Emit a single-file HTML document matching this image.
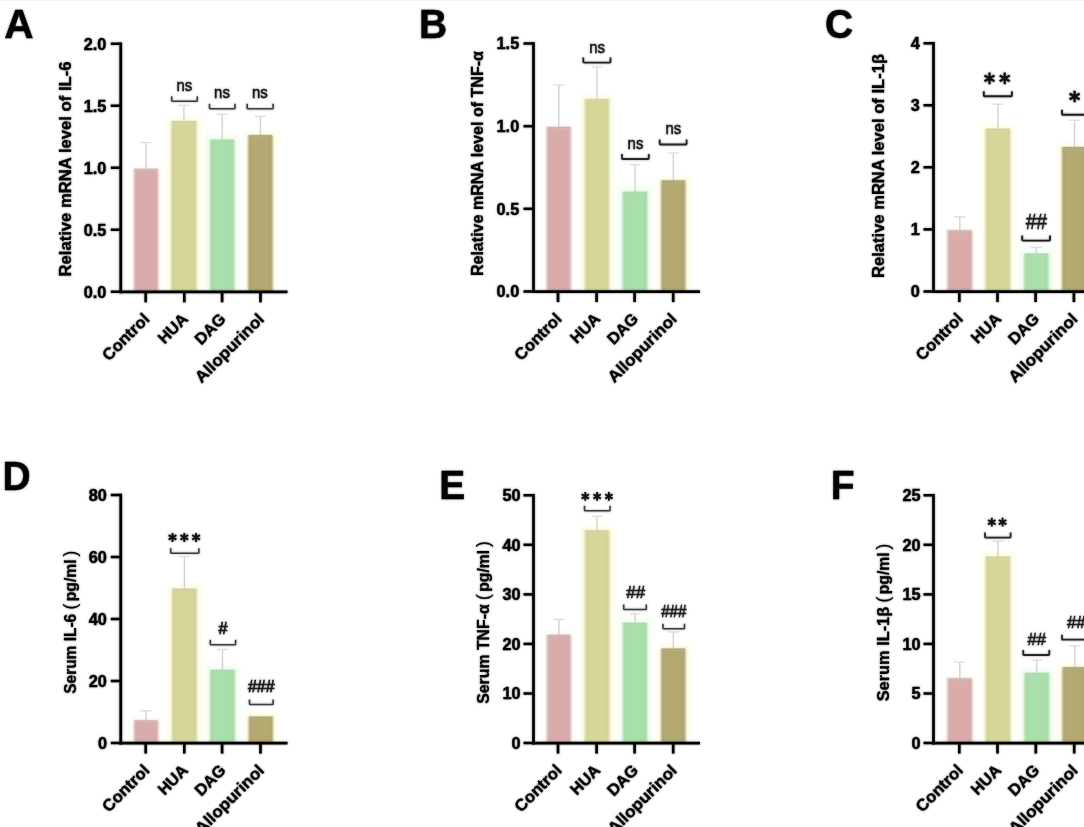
<!DOCTYPE html>
<html lang="en">
<head>
<meta charset="utf-8">
<title>Figure: cytokine mRNA and serum levels</title>
<style>
html,body{margin:0;padding:0;background:#ffffff;}
body{width:1084px;height:827px;overflow:hidden;font-family:"Liberation Sans", sans-serif;}
svg{display:block;}
</style>
</head>
<body>
<svg width="1084" height="827" viewBox="0 0 1084 827" font-family='"Liberation Sans", sans-serif'>
<defs>
<filter id="b3" x="-50%" y="-20%" width="200%" height="140%"><feGaussianBlur stdDeviation="1.7"/></filter>
<filter id="b08" x="-20%" y="-10%" width="140%" height="120%"><feGaussianBlur stdDeviation="0.95"/></filter>
<filter id="b05" x="-50%" y="-50%" width="200%" height="200%"><feGaussianBlur stdDeviation="0.5"/></filter>
<filter id="soft" filterUnits="userSpaceOnUse" x="0" y="0" width="1084" height="827"><feGaussianBlur stdDeviation="1"/></filter>
<linearGradient id="g0" x1="0" x2="1" y1="0" y2="0"><stop offset="0" stop-color="#c9b0ad"/><stop offset="0.12" stop-color="#d9abaa"/><stop offset="0.88" stop-color="#d9abaa"/><stop offset="1" stop-color="#c9b0ad"/></linearGradient>
<linearGradient id="g1" x1="0" x2="1" y1="0" y2="0"><stop offset="0" stop-color="#c9ca99"/><stop offset="0.12" stop-color="#d6d699"/><stop offset="0.88" stop-color="#d6d699"/><stop offset="1" stop-color="#c9ca99"/></linearGradient>
<linearGradient id="g2" x1="0" x2="1" y1="0" y2="0"><stop offset="0" stop-color="#a6d3a8"/><stop offset="0.12" stop-color="#a8dfaa"/><stop offset="0.88" stop-color="#a8dfaa"/><stop offset="1" stop-color="#a6d3a8"/></linearGradient>
<linearGradient id="g3" x1="0" x2="1" y1="0" y2="0"><stop offset="0" stop-color="#9d986f"/><stop offset="0.12" stop-color="#b4a970"/><stop offset="0.88" stop-color="#b4a970"/><stop offset="1" stop-color="#9d986f"/></linearGradient>
</defs>
<rect width="1084" height="827" fill="#ffffff"/>
<rect width="1084" height="1" fill="#f1f1f1"/>
<g opacity="0.999">
<rect x="129.00" y="163.50" width="34.30" height="128.25" fill="#fffaf8" filter="url(#b3)" opacity="0.6"/>
<rect x="166.30" y="116.30" width="35.30" height="175.45" fill="#fffde6" filter="url(#b3)" opacity="0.85"/>
<rect x="205.00" y="134.40" width="34.40" height="157.35" fill="#f2fff0" filter="url(#b3)" opacity="0.9"/>
<rect x="243.20" y="130.40" width="34.40" height="161.35" fill="#fffde6" filter="url(#b3)" opacity="0.85"/>
<path d="M146.15,169.50V142.50" stroke="#d2d2d2" stroke-width="1.4" fill="none"/>
<path d="M140.65,142.50H151.65" stroke="#dedede" stroke-width="1.4" fill="none"/>
<path d="M183.95,121.80V105.30" stroke="#d2d2d2" stroke-width="1.4" fill="none"/>
<path d="M178.45,105.30H189.45" stroke="#dedede" stroke-width="1.4" fill="none"/>
<path d="M222.20,140.40V114.30" stroke="#d2d2d2" stroke-width="1.4" fill="none"/>
<path d="M216.70,114.30H227.70" stroke="#dedede" stroke-width="1.4" fill="none"/>
<path d="M260.40,135.90V116.40" stroke="#d2d2d2" stroke-width="1.4" fill="none"/>
<path d="M254.90,116.40H265.90" stroke="#dedede" stroke-width="1.4" fill="none"/>
<rect x="134.00" y="169.00" width="24.30" height="122.75" fill="url(#g0)" filter="url(#b08)"/>
<rect x="134.50" y="168.80" width="23.30" height="1.3" fill="#c9b0ad" opacity="0.8"/>
<rect x="171.30" y="121.30" width="25.30" height="170.45" fill="url(#g1)" filter="url(#b08)"/>
<rect x="171.80" y="121.10" width="24.30" height="1.3" fill="#c9ca99" opacity="0.8"/>
<rect x="210.00" y="139.90" width="24.40" height="151.85" fill="url(#g2)" filter="url(#b08)"/>
<rect x="210.50" y="139.70" width="23.40" height="1.3" fill="#a6d3a8" opacity="0.8"/>
<rect x="248.20" y="135.40" width="24.40" height="156.35" fill="url(#g3)" filter="url(#b08)"/>
<rect x="248.70" y="135.20" width="23.40" height="1.3" fill="#9d986f" opacity="0.8"/>
<rect x="541.60" y="121.60" width="34.30" height="169.90" fill="#fffaf8" filter="url(#b3)" opacity="0.6"/>
<rect x="579.80" y="94.40" width="34.30" height="197.10" fill="#fffde6" filter="url(#b3)" opacity="0.85"/>
<rect x="617.60" y="186.40" width="34.80" height="105.10" fill="#f2fff0" filter="url(#b3)" opacity="0.9"/>
<rect x="656.20" y="175.70" width="34.30" height="115.80" fill="#fffde6" filter="url(#b3)" opacity="0.85"/>
<path d="M558.75,127.60V85.00" stroke="#d2d2d2" stroke-width="1.4" fill="none"/>
<path d="M553.25,85.00H564.25" stroke="#dedede" stroke-width="1.4" fill="none"/>
<path d="M596.95,99.90V67.00" stroke="#d2d2d2" stroke-width="1.4" fill="none"/>
<path d="M591.45,67.00H602.45" stroke="#dedede" stroke-width="1.4" fill="none"/>
<path d="M635.00,192.40V164.60" stroke="#d2d2d2" stroke-width="1.4" fill="none"/>
<path d="M629.50,164.60H640.50" stroke="#dedede" stroke-width="1.4" fill="none"/>
<path d="M673.35,181.20V153.00" stroke="#d2d2d2" stroke-width="1.4" fill="none"/>
<path d="M667.85,153.00H678.85" stroke="#dedede" stroke-width="1.4" fill="none"/>
<rect x="546.60" y="127.10" width="24.30" height="164.40" fill="url(#g0)" filter="url(#b08)"/>
<rect x="547.10" y="126.90" width="23.30" height="1.3" fill="#c9b0ad" opacity="0.8"/>
<rect x="584.80" y="99.40" width="24.30" height="192.10" fill="url(#g1)" filter="url(#b08)"/>
<rect x="585.30" y="99.20" width="23.30" height="1.3" fill="#c9ca99" opacity="0.8"/>
<rect x="622.60" y="191.90" width="24.80" height="99.60" fill="url(#g2)" filter="url(#b08)"/>
<rect x="623.10" y="191.70" width="23.80" height="1.3" fill="#a6d3a8" opacity="0.8"/>
<rect x="661.20" y="180.70" width="24.30" height="110.80" fill="url(#g3)" filter="url(#b08)"/>
<rect x="661.70" y="180.50" width="23.30" height="1.3" fill="#9d986f" opacity="0.8"/>
<rect x="942.30" y="225.00" width="35.00" height="66.50" fill="#fffaf8" filter="url(#b3)" opacity="0.6"/>
<rect x="980.60" y="123.90" width="34.70" height="167.60" fill="#fffde6" filter="url(#b3)" opacity="0.85"/>
<rect x="1019.10" y="248.30" width="34.50" height="43.20" fill="#f2fff0" filter="url(#b3)" opacity="0.9"/>
<rect x="1057.00" y="142.30" width="35.00" height="149.20" fill="#fffde6" filter="url(#b3)" opacity="0.85"/>
<path d="M959.80,231.00V216.80" stroke="#d2d2d2" stroke-width="1.4" fill="none"/>
<path d="M954.30,216.80H965.30" stroke="#dedede" stroke-width="1.4" fill="none"/>
<path d="M997.95,129.40V104.20" stroke="#d2d2d2" stroke-width="1.4" fill="none"/>
<path d="M992.45,104.20H1003.45" stroke="#dedede" stroke-width="1.4" fill="none"/>
<path d="M1036.35,254.30V247.40" stroke="#d2d2d2" stroke-width="1.4" fill="none"/>
<path d="M1030.85,247.40H1041.85" stroke="#dedede" stroke-width="1.4" fill="none"/>
<path d="M1074.50,147.80V120.20" stroke="#d2d2d2" stroke-width="1.4" fill="none"/>
<path d="M1069.00,120.20H1080.00" stroke="#dedede" stroke-width="1.4" fill="none"/>
<rect x="947.30" y="230.50" width="25.00" height="61.00" fill="url(#g0)" filter="url(#b08)"/>
<rect x="947.80" y="230.30" width="24.00" height="1.3" fill="#c9b0ad" opacity="0.8"/>
<rect x="985.60" y="128.90" width="24.70" height="162.60" fill="url(#g1)" filter="url(#b08)"/>
<rect x="986.10" y="128.70" width="23.70" height="1.3" fill="#c9ca99" opacity="0.8"/>
<rect x="1024.10" y="253.80" width="24.50" height="37.70" fill="url(#g2)" filter="url(#b08)"/>
<rect x="1024.60" y="253.60" width="23.50" height="1.3" fill="#a6d3a8" opacity="0.8"/>
<rect x="1062.00" y="147.30" width="25.00" height="144.20" fill="url(#g3)" filter="url(#b08)"/>
<rect x="1062.50" y="147.10" width="24.00" height="1.3" fill="#9d986f" opacity="0.8"/>
<rect x="129.00" y="715.00" width="34.30" height="28.00" fill="#fffaf8" filter="url(#b3)" opacity="0.6"/>
<rect x="167.00" y="583.90" width="34.80" height="159.10" fill="#fffde6" filter="url(#b3)" opacity="0.85"/>
<rect x="205.00" y="664.50" width="35.00" height="78.50" fill="#f2fff0" filter="url(#b3)" opacity="0.9"/>
<rect x="243.70" y="711.80" width="34.30" height="31.20" fill="#fffde6" filter="url(#b3)" opacity="0.85"/>
<path d="M146.15,721.00V710.80" stroke="#d2d2d2" stroke-width="1.4" fill="none"/>
<path d="M140.65,710.80H151.65" stroke="#dedede" stroke-width="1.4" fill="none"/>
<path d="M184.40,589.40V556.60" stroke="#d2d2d2" stroke-width="1.4" fill="none"/>
<path d="M178.90,556.60H189.90" stroke="#dedede" stroke-width="1.4" fill="none"/>
<path d="M222.50,670.50V649.50" stroke="#d2d2d2" stroke-width="1.4" fill="none"/>
<path d="M217.00,649.50H228.00" stroke="#dedede" stroke-width="1.4" fill="none"/>
<rect x="134.00" y="720.50" width="24.30" height="22.50" fill="url(#g0)" filter="url(#b08)"/>
<rect x="134.50" y="720.30" width="23.30" height="1.3" fill="#c9b0ad" opacity="0.8"/>
<rect x="172.00" y="588.90" width="24.80" height="154.10" fill="url(#g1)" filter="url(#b08)"/>
<rect x="172.50" y="588.70" width="23.80" height="1.3" fill="#c9ca99" opacity="0.8"/>
<rect x="210.00" y="670.00" width="25.00" height="73.00" fill="url(#g2)" filter="url(#b08)"/>
<rect x="210.50" y="669.80" width="24.00" height="1.3" fill="#a6d3a8" opacity="0.8"/>
<rect x="248.70" y="716.80" width="24.30" height="26.20" fill="url(#g3)" filter="url(#b08)"/>
<rect x="249.20" y="716.60" width="23.30" height="1.3" fill="#9d986f" opacity="0.8"/>
<rect x="541.80" y="629.50" width="34.20" height="113.50" fill="#fffaf8" filter="url(#b3)" opacity="0.6"/>
<rect x="579.80" y="525.50" width="34.50" height="217.50" fill="#fffde6" filter="url(#b3)" opacity="0.85"/>
<rect x="617.80" y="617.50" width="34.50" height="125.50" fill="#f2fff0" filter="url(#b3)" opacity="0.9"/>
<rect x="656.20" y="643.80" width="34.30" height="99.20" fill="#fffde6" filter="url(#b3)" opacity="0.85"/>
<path d="M558.90,635.50V619.50" stroke="#d2d2d2" stroke-width="1.4" fill="none"/>
<path d="M553.40,619.50H564.40" stroke="#dedede" stroke-width="1.4" fill="none"/>
<path d="M597.05,531.00V516.30" stroke="#d2d2d2" stroke-width="1.4" fill="none"/>
<path d="M591.55,516.30H602.55" stroke="#dedede" stroke-width="1.4" fill="none"/>
<path d="M635.05,623.50V613.80" stroke="#d2d2d2" stroke-width="1.4" fill="none"/>
<path d="M629.55,613.80H640.55" stroke="#dedede" stroke-width="1.4" fill="none"/>
<path d="M673.35,649.30V632.00" stroke="#d2d2d2" stroke-width="1.4" fill="none"/>
<path d="M667.85,632.00H678.85" stroke="#dedede" stroke-width="1.4" fill="none"/>
<rect x="546.80" y="635.00" width="24.20" height="108.00" fill="url(#g0)" filter="url(#b08)"/>
<rect x="547.30" y="634.80" width="23.20" height="1.3" fill="#c9b0ad" opacity="0.8"/>
<rect x="584.80" y="530.50" width="24.50" height="212.50" fill="url(#g1)" filter="url(#b08)"/>
<rect x="585.30" y="530.30" width="23.50" height="1.3" fill="#c9ca99" opacity="0.8"/>
<rect x="622.80" y="623.00" width="24.50" height="120.00" fill="url(#g2)" filter="url(#b08)"/>
<rect x="623.30" y="622.80" width="23.50" height="1.3" fill="#a6d3a8" opacity="0.8"/>
<rect x="661.20" y="648.80" width="24.30" height="94.20" fill="url(#g3)" filter="url(#b08)"/>
<rect x="661.70" y="648.60" width="23.30" height="1.3" fill="#9d986f" opacity="0.8"/>
<rect x="942.30" y="673.00" width="35.00" height="70.00" fill="#fffaf8" filter="url(#b3)" opacity="0.6"/>
<rect x="980.60" y="551.80" width="34.70" height="191.20" fill="#fffde6" filter="url(#b3)" opacity="0.85"/>
<rect x="1019.30" y="667.50" width="34.90" height="75.50" fill="#f2fff0" filter="url(#b3)" opacity="0.9"/>
<rect x="1057.40" y="662.50" width="34.60" height="80.50" fill="#fffde6" filter="url(#b3)" opacity="0.85"/>
<path d="M959.80,679.00V662.00" stroke="#d2d2d2" stroke-width="1.4" fill="none"/>
<path d="M954.30,662.00H965.30" stroke="#dedede" stroke-width="1.4" fill="none"/>
<path d="M997.95,557.30V541.30" stroke="#d2d2d2" stroke-width="1.4" fill="none"/>
<path d="M992.45,541.30H1003.45" stroke="#dedede" stroke-width="1.4" fill="none"/>
<path d="M1036.75,673.50V660.00" stroke="#d2d2d2" stroke-width="1.4" fill="none"/>
<path d="M1031.25,660.00H1042.25" stroke="#dedede" stroke-width="1.4" fill="none"/>
<path d="M1074.70,668.00V645.80" stroke="#d2d2d2" stroke-width="1.4" fill="none"/>
<path d="M1069.20,645.80H1080.20" stroke="#dedede" stroke-width="1.4" fill="none"/>
<rect x="947.30" y="678.50" width="25.00" height="64.50" fill="url(#g0)" filter="url(#b08)"/>
<rect x="947.80" y="678.30" width="24.00" height="1.3" fill="#c9b0ad" opacity="0.8"/>
<rect x="985.60" y="556.80" width="24.70" height="186.20" fill="url(#g1)" filter="url(#b08)"/>
<rect x="986.10" y="556.60" width="23.70" height="1.3" fill="#c9ca99" opacity="0.8"/>
<rect x="1024.30" y="673.00" width="24.90" height="70.00" fill="url(#g2)" filter="url(#b08)"/>
<rect x="1024.80" y="672.80" width="23.90" height="1.3" fill="#a6d3a8" opacity="0.8"/>
<rect x="1062.40" y="667.50" width="24.60" height="75.50" fill="url(#g3)" filter="url(#b08)"/>
<rect x="1062.90" y="667.30" width="23.60" height="1.3" fill="#9d986f" opacity="0.8"/>
</g>
<g filter="url(#soft)" opacity="0.5">
<path d="M120.75,42.40V293.25" stroke="#000000" stroke-width="2.75" fill="none"/>
<path d="M119.30,291.75H287.50" stroke="#000000" stroke-width="2.75" fill="none"/>
<path d="M110.75,43.75H120.75" stroke="#000000" stroke-width="2.55" fill="none"/>
<text x="106.35" y="49.65" text-anchor="end" font-size="16.3" font-weight="700" fill="#000000" stroke="#000000" stroke-width="0.4">2.0</text>
<path d="M110.75,105.75H120.75" stroke="#000000" stroke-width="2.55" fill="none"/>
<text x="106.35" y="111.65" text-anchor="end" font-size="16.3" font-weight="700" fill="#000000" stroke="#000000" stroke-width="0.4">1.5</text>
<path d="M110.75,167.75H120.75" stroke="#000000" stroke-width="2.55" fill="none"/>
<text x="106.35" y="173.65" text-anchor="end" font-size="16.3" font-weight="700" fill="#000000" stroke="#000000" stroke-width="0.4">1.0</text>
<path d="M110.75,229.75H120.75" stroke="#000000" stroke-width="2.55" fill="none"/>
<text x="106.35" y="235.65" text-anchor="end" font-size="16.3" font-weight="700" fill="#000000" stroke="#000000" stroke-width="0.4">0.5</text>
<path d="M110.75,291.75H120.75" stroke="#000000" stroke-width="2.55" fill="none"/>
<text x="106.35" y="297.65" text-anchor="end" font-size="16.3" font-weight="700" fill="#000000" stroke="#000000" stroke-width="0.4">0.0</text>
<path d="M145.70,291.75V302.35" stroke="#000000" stroke-width="2.65" fill="none"/>
<text transform="translate(150.40,320.05) rotate(-45)" text-anchor="end" font-size="16.3" font-weight="700" fill="#000000" stroke="#000000" stroke-width="0.3" textLength="59.0" lengthAdjust="spacingAndGlyphs">Control</text>
<path d="M184.30,291.75V302.35" stroke="#000000" stroke-width="2.65" fill="none"/>
<text transform="translate(189.00,320.05) rotate(-45)" text-anchor="end" font-size="16.3" font-weight="700" fill="#000000" stroke="#000000" stroke-width="0.3" textLength="34.8" lengthAdjust="spacingAndGlyphs">HUA</text>
<path d="M222.10,291.75V302.35" stroke="#000000" stroke-width="2.65" fill="none"/>
<text transform="translate(226.80,320.05) rotate(-45)" text-anchor="end" font-size="16.3" font-weight="700" fill="#000000" stroke="#000000" stroke-width="0.3" textLength="36.3" lengthAdjust="spacingAndGlyphs">DAG</text>
<path d="M260.50,291.75V302.35" stroke="#000000" stroke-width="2.65" fill="none"/>
<text transform="translate(265.20,320.05) rotate(-45)" text-anchor="end" font-size="16.3" font-weight="700" fill="#000000" stroke="#000000" stroke-width="0.3" textLength="90.0" lengthAdjust="spacingAndGlyphs">Allopurinol</text>
<text transform="translate(71.20,169.00) rotate(-90)" text-anchor="middle" font-size="16.3" font-weight="700" fill="#000000" stroke="#000000" stroke-width="0.3" textLength="215" lengthAdjust="spacingAndGlyphs">Relative mRNA level of IL-6</text>
<text transform="translate(4.30,37.80) scale(1.04,1.045)" font-size="39" font-weight="700" fill="#000" stroke="#000" stroke-width="0.4">A</text>
<path d="M171.70,96.20V100.40Q171.70,101.20 172.50,101.20H196.50Q197.30,101.20 197.30,100.40V96.20" stroke="#3d3d3d" stroke-width="1.6" fill="none" stroke-linejoin="round"/>
<text x="184.40" y="91.00" text-anchor="middle" font-size="17" fill="#161616" stroke="#161616" stroke-width="0.45" textLength="15.8" lengthAdjust="spacingAndGlyphs">ns</text>
<path d="M209.50,103.80V108.00Q209.50,108.80 210.30,108.80H234.20Q235.00,108.80 235.00,108.00V103.80" stroke="#3d3d3d" stroke-width="1.6" fill="none" stroke-linejoin="round"/>
<text x="222.00" y="98.00" text-anchor="middle" font-size="17" fill="#161616" stroke="#161616" stroke-width="0.45" textLength="15.8" lengthAdjust="spacingAndGlyphs">ns</text>
<path d="M247.20,103.80V108.00Q247.20,108.80 248.00,108.80H272.30Q273.10,108.80 273.10,108.00V103.80" stroke="#3d3d3d" stroke-width="1.6" fill="none" stroke-linejoin="round"/>
<text x="259.80" y="98.00" text-anchor="middle" font-size="17" fill="#161616" stroke="#161616" stroke-width="0.45" textLength="15.8" lengthAdjust="spacingAndGlyphs">ns</text>
<path d="M533.50,42.15V293.00" stroke="#000000" stroke-width="2.75" fill="none"/>
<path d="M532.05,291.50H700.00" stroke="#000000" stroke-width="2.75" fill="none"/>
<path d="M523.50,43.50H533.50" stroke="#000000" stroke-width="2.55" fill="none"/>
<text x="519.20" y="49.40" text-anchor="end" font-size="16.3" font-weight="700" fill="#000000" stroke="#000000" stroke-width="0.4">1.5</text>
<path d="M523.50,126.20H533.50" stroke="#000000" stroke-width="2.55" fill="none"/>
<text x="519.20" y="132.10" text-anchor="end" font-size="16.3" font-weight="700" fill="#000000" stroke="#000000" stroke-width="0.4">1.0</text>
<path d="M523.50,208.80H533.50" stroke="#000000" stroke-width="2.55" fill="none"/>
<text x="519.20" y="214.70" text-anchor="end" font-size="16.3" font-weight="700" fill="#000000" stroke="#000000" stroke-width="0.4">0.5</text>
<path d="M523.50,291.50H533.50" stroke="#000000" stroke-width="2.55" fill="none"/>
<text x="519.20" y="297.40" text-anchor="end" font-size="16.3" font-weight="700" fill="#000000" stroke="#000000" stroke-width="0.4">0.0</text>
<path d="M558.00,291.50V302.10" stroke="#000000" stroke-width="2.65" fill="none"/>
<text transform="translate(562.70,319.80) rotate(-45)" text-anchor="end" font-size="16.3" font-weight="700" fill="#000000" stroke="#000000" stroke-width="0.3" textLength="59.0" lengthAdjust="spacingAndGlyphs">Control</text>
<path d="M596.60,291.50V302.10" stroke="#000000" stroke-width="2.65" fill="none"/>
<text transform="translate(601.30,319.80) rotate(-45)" text-anchor="end" font-size="16.3" font-weight="700" fill="#000000" stroke="#000000" stroke-width="0.3" textLength="34.8" lengthAdjust="spacingAndGlyphs">HUA</text>
<path d="M634.60,291.50V302.10" stroke="#000000" stroke-width="2.65" fill="none"/>
<text transform="translate(639.30,319.80) rotate(-45)" text-anchor="end" font-size="16.3" font-weight="700" fill="#000000" stroke="#000000" stroke-width="0.3" textLength="36.3" lengthAdjust="spacingAndGlyphs">DAG</text>
<path d="M673.20,291.50V302.10" stroke="#000000" stroke-width="2.65" fill="none"/>
<text transform="translate(677.90,319.80) rotate(-45)" text-anchor="end" font-size="16.3" font-weight="700" fill="#000000" stroke="#000000" stroke-width="0.3" textLength="90.0" lengthAdjust="spacingAndGlyphs">Allopurinol</text>
<text transform="translate(482.70,163.60) rotate(-90)" text-anchor="middle" font-size="16.3" font-weight="700" fill="#000000" stroke="#000000" stroke-width="0.3" textLength="225" lengthAdjust="spacingAndGlyphs">Relative mRNA level of TNF-α</text>
<text transform="translate(418.90,37.80) scale(1.0,1.045)" font-size="39" font-weight="700" fill="#000" stroke="#000" stroke-width="0.4">B</text>
<path d="M583.30,57.60V61.80Q583.30,62.60 584.10,62.60H609.70Q610.50,62.60 610.50,61.80V57.60" stroke="#262626" stroke-width="1.85" fill="none" stroke-linejoin="round"/>
<text x="597.20" y="53.00" text-anchor="middle" font-size="17" fill="#161616" stroke="#161616" stroke-width="0.45" textLength="15.8" lengthAdjust="spacingAndGlyphs">ns</text>
<path d="M622.00,154.00V158.20Q622.00,159.00 622.80,159.00H648.00Q648.80,159.00 648.80,158.20V154.00" stroke="#262626" stroke-width="1.85" fill="none" stroke-linejoin="round"/>
<text x="635.50" y="149.40" text-anchor="middle" font-size="17" fill="#161616" stroke="#161616" stroke-width="0.45" textLength="15.8" lengthAdjust="spacingAndGlyphs">ns</text>
<path d="M659.70,139.50V143.70Q659.70,144.50 660.50,144.50H685.80Q686.60,144.50 686.60,143.70V139.50" stroke="#262626" stroke-width="1.85" fill="none" stroke-linejoin="round"/>
<text x="673.30" y="134.00" text-anchor="middle" font-size="17" fill="#161616" stroke="#161616" stroke-width="0.45" textLength="15.8" lengthAdjust="spacingAndGlyphs">ns</text>
<path d="M933.50,41.95V293.00" stroke="#000000" stroke-width="2.75" fill="none"/>
<path d="M932.05,291.50H1086.00" stroke="#000000" stroke-width="2.75" fill="none"/>
<path d="M923.50,43.30H933.50" stroke="#000000" stroke-width="2.55" fill="none"/>
<text x="919.70" y="49.20" text-anchor="end" font-size="16.3" font-weight="700" fill="#000000" stroke="#000000" stroke-width="0.4">4</text>
<path d="M923.50,105.30H933.50" stroke="#000000" stroke-width="2.55" fill="none"/>
<text x="919.70" y="111.20" text-anchor="end" font-size="16.3" font-weight="700" fill="#000000" stroke="#000000" stroke-width="0.4">3</text>
<path d="M923.50,167.30H933.50" stroke="#000000" stroke-width="2.55" fill="none"/>
<text x="919.70" y="173.20" text-anchor="end" font-size="16.3" font-weight="700" fill="#000000" stroke="#000000" stroke-width="0.4">2</text>
<path d="M923.50,229.40H933.50" stroke="#000000" stroke-width="2.55" fill="none"/>
<text x="919.70" y="235.30" text-anchor="end" font-size="16.3" font-weight="700" fill="#000000" stroke="#000000" stroke-width="0.4">1</text>
<path d="M923.50,291.50H933.50" stroke="#000000" stroke-width="2.55" fill="none"/>
<text x="919.70" y="297.40" text-anchor="end" font-size="16.3" font-weight="700" fill="#000000" stroke="#000000" stroke-width="0.4">0</text>
<path d="M959.30,291.50V302.10" stroke="#000000" stroke-width="2.65" fill="none"/>
<text transform="translate(964.00,319.80) rotate(-45)" text-anchor="end" font-size="16.3" font-weight="700" fill="#000000" stroke="#000000" stroke-width="0.3" textLength="59.0" lengthAdjust="spacingAndGlyphs">Control</text>
<path d="M997.50,291.50V302.10" stroke="#000000" stroke-width="2.65" fill="none"/>
<text transform="translate(1002.20,319.80) rotate(-45)" text-anchor="end" font-size="16.3" font-weight="700" fill="#000000" stroke="#000000" stroke-width="0.3" textLength="34.8" lengthAdjust="spacingAndGlyphs">HUA</text>
<path d="M1035.60,291.50V302.10" stroke="#000000" stroke-width="2.65" fill="none"/>
<text transform="translate(1040.30,319.80) rotate(-45)" text-anchor="end" font-size="16.3" font-weight="700" fill="#000000" stroke="#000000" stroke-width="0.3" textLength="36.3" lengthAdjust="spacingAndGlyphs">DAG</text>
<path d="M1073.90,291.50V302.10" stroke="#000000" stroke-width="2.65" fill="none"/>
<text transform="translate(1078.60,319.80) rotate(-45)" text-anchor="end" font-size="16.3" font-weight="700" fill="#000000" stroke="#000000" stroke-width="0.3" textLength="90.0" lengthAdjust="spacingAndGlyphs">Allopurinol</text>
<text transform="translate(883.80,166.00) rotate(-90)" text-anchor="middle" font-size="16.3" font-weight="700" fill="#000000" stroke="#000000" stroke-width="0.3" textLength="224" lengthAdjust="spacingAndGlyphs">Relative mRNA level of IL-1β</text>
<text transform="translate(824.90,37.80) scale(1.0,1.045)" font-size="39" font-weight="700" fill="#000" stroke="#000" stroke-width="0.4">C</text>
<path d="M983.80,91.30V95.50Q983.80,96.30 984.60,96.30H1011.10Q1011.90,96.30 1011.90,95.50V91.30" stroke="#1e1e1e" stroke-width="1.9" fill="none" stroke-linejoin="round"/>
<path d="M989.50,72.60L989.50,84.20M984.48,75.50L994.52,81.30M994.52,75.50L984.48,81.30" stroke="#111" stroke-width="2.4" stroke-linecap="butt" fill="none"/>
<path d="M1004.70,72.60L1004.70,84.20M999.68,75.50L1009.72,81.30M1009.72,75.50L999.68,81.30" stroke="#111" stroke-width="2.4" stroke-linecap="butt" fill="none"/>
<path d="M1022.20,235.60V239.80Q1022.20,240.60 1023.00,240.60H1049.20Q1050.00,240.60 1050.00,239.80V235.60" stroke="#1e1e1e" stroke-width="1.9" fill="none" stroke-linejoin="round"/>
<text x="1036.10" y="228.60" text-anchor="middle" font-size="22.5" font-style="italic" fill="#1a1a1a" stroke="#1a1a1a" stroke-width="0.45" textLength="21.45" lengthAdjust="spacingAndGlyphs">##</text>
<path d="M1062.00,109.70V113.90Q1062.00,114.70 1062.80,114.70H1088.50Q1089.30,114.70 1089.30,113.90V109.70" stroke="#1e1e1e" stroke-width="1.9" fill="none" stroke-linejoin="round"/>
<path d="M1074.60,90.70L1074.60,102.30M1069.58,93.60L1079.62,99.40M1079.62,93.60L1069.58,99.40" stroke="#111" stroke-width="2.4" stroke-linecap="butt" fill="none"/>
<path d="M120.75,493.65V744.50" stroke="#000000" stroke-width="2.75" fill="none"/>
<path d="M119.30,743.00H287.50" stroke="#000000" stroke-width="2.75" fill="none"/>
<path d="M110.75,495.00H120.75" stroke="#000000" stroke-width="2.55" fill="none"/>
<text x="106.95" y="500.90" text-anchor="end" font-size="16.3" font-weight="700" fill="#000000" stroke="#000000" stroke-width="0.4">80</text>
<path d="M110.75,557.00H120.75" stroke="#000000" stroke-width="2.55" fill="none"/>
<text x="106.95" y="562.90" text-anchor="end" font-size="16.3" font-weight="700" fill="#000000" stroke="#000000" stroke-width="0.4">60</text>
<path d="M110.75,619.00H120.75" stroke="#000000" stroke-width="2.55" fill="none"/>
<text x="106.95" y="624.90" text-anchor="end" font-size="16.3" font-weight="700" fill="#000000" stroke="#000000" stroke-width="0.4">40</text>
<path d="M110.75,681.00H120.75" stroke="#000000" stroke-width="2.55" fill="none"/>
<text x="106.95" y="686.90" text-anchor="end" font-size="16.3" font-weight="700" fill="#000000" stroke="#000000" stroke-width="0.4">20</text>
<path d="M110.75,743.00H120.75" stroke="#000000" stroke-width="2.55" fill="none"/>
<text x="106.95" y="748.90" text-anchor="end" font-size="16.3" font-weight="700" fill="#000000" stroke="#000000" stroke-width="0.4">0</text>
<path d="M145.70,743.00V753.60" stroke="#000000" stroke-width="2.65" fill="none"/>
<text transform="translate(150.40,771.30) rotate(-45)" text-anchor="end" font-size="16.3" font-weight="700" fill="#000000" stroke="#000000" stroke-width="0.3" textLength="59.0" lengthAdjust="spacingAndGlyphs">Control</text>
<path d="M184.30,743.00V753.60" stroke="#000000" stroke-width="2.65" fill="none"/>
<text transform="translate(189.00,771.30) rotate(-45)" text-anchor="end" font-size="16.3" font-weight="700" fill="#000000" stroke="#000000" stroke-width="0.3" textLength="34.8" lengthAdjust="spacingAndGlyphs">HUA</text>
<path d="M222.10,743.00V753.60" stroke="#000000" stroke-width="2.65" fill="none"/>
<text transform="translate(226.80,771.30) rotate(-45)" text-anchor="end" font-size="16.3" font-weight="700" fill="#000000" stroke="#000000" stroke-width="0.3" textLength="36.3" lengthAdjust="spacingAndGlyphs">DAG</text>
<path d="M260.50,743.00V753.60" stroke="#000000" stroke-width="2.65" fill="none"/>
<text transform="translate(265.20,771.30) rotate(-45)" text-anchor="end" font-size="16.3" font-weight="700" fill="#000000" stroke="#000000" stroke-width="0.3" textLength="90.0" lengthAdjust="spacingAndGlyphs">Allopurinol</text>
<g transform="translate(76.10,693.80) rotate(-90)" font-size="15.8" font-weight="700" fill="#000000" stroke="#000000" stroke-width="0.25">
<text x="0" y="0" textLength="80" lengthAdjust="spacingAndGlyphs">Serum IL-6</text>
<text x="84.20" y="-0.3" font-weight="400" font-size="17.5" stroke-width="0.2">(</text>
<text x="92.60" y="0" textLength="41.8" lengthAdjust="spacingAndGlyphs">pg/ml</text>
<text x="137.40" y="-0.3" font-weight="400" font-size="17.5" stroke-width="0.2">)</text>
</g>
<text transform="translate(2.50,489.80) scale(1.0,1.045)" font-size="39" font-weight="700" fill="#000" stroke="#000" stroke-width="0.4">D</text>
<path d="M170.70,548.30V552.50Q170.70,553.30 171.50,553.30H198.10Q198.90,553.30 198.90,552.50V548.30" stroke="#3d3d3d" stroke-width="1.6" fill="none" stroke-linejoin="round"/>
<path d="M172.50,532.90L172.50,541.90M168.60,535.15L176.40,539.65M176.40,535.15L168.60,539.65" stroke="#111" stroke-width="1.95" stroke-linecap="butt" fill="none"/>
<path d="M184.30,532.90L184.30,541.90M180.40,535.15L188.20,539.65M188.20,535.15L180.40,539.65" stroke="#111" stroke-width="1.95" stroke-linecap="butt" fill="none"/>
<path d="M196.10,532.90L196.10,541.90M192.20,535.15L200.00,539.65M200.00,535.15L192.20,539.65" stroke="#111" stroke-width="1.95" stroke-linecap="butt" fill="none"/>
<path d="M210.30,639.80V644.00Q210.30,644.80 211.10,644.80H234.80Q235.60,644.80 235.60,644.00V639.80" stroke="#3d3d3d" stroke-width="1.6" fill="none" stroke-linejoin="round"/>
<text x="222.80" y="634.40" text-anchor="middle" font-size="16.5" font-style="italic" fill="#1a1a1a" stroke="#1a1a1a" stroke-width="0.7" textLength="9.00" lengthAdjust="spacingAndGlyphs">#</text>
<path d="M249.50,699.50V703.70Q249.50,704.50 250.30,704.50H272.30Q273.10,704.50 273.10,703.70V699.50" stroke="#3d3d3d" stroke-width="1.6" fill="none" stroke-linejoin="round"/>
<text x="261.00" y="692.20" text-anchor="middle" font-size="16.5" font-style="italic" fill="#1a1a1a" stroke="#1a1a1a" stroke-width="0.7" textLength="26.50" lengthAdjust="spacingAndGlyphs">###</text>
<path d="M533.50,493.95V744.50" stroke="#000000" stroke-width="2.75" fill="none"/>
<path d="M532.05,743.00H700.00" stroke="#000000" stroke-width="2.75" fill="none"/>
<path d="M523.50,495.30H533.50" stroke="#000000" stroke-width="2.55" fill="none"/>
<text x="520.50" y="501.20" text-anchor="end" font-size="16.3" font-weight="700" fill="#000000" stroke="#000000" stroke-width="0.4">50</text>
<path d="M523.50,544.80H533.50" stroke="#000000" stroke-width="2.55" fill="none"/>
<text x="520.50" y="550.70" text-anchor="end" font-size="16.3" font-weight="700" fill="#000000" stroke="#000000" stroke-width="0.4">40</text>
<path d="M523.50,594.40H533.50" stroke="#000000" stroke-width="2.55" fill="none"/>
<text x="520.50" y="600.30" text-anchor="end" font-size="16.3" font-weight="700" fill="#000000" stroke="#000000" stroke-width="0.4">30</text>
<path d="M523.50,643.90H533.50" stroke="#000000" stroke-width="2.55" fill="none"/>
<text x="520.50" y="649.80" text-anchor="end" font-size="16.3" font-weight="700" fill="#000000" stroke="#000000" stroke-width="0.4">20</text>
<path d="M523.50,693.50H533.50" stroke="#000000" stroke-width="2.55" fill="none"/>
<text x="520.50" y="699.40" text-anchor="end" font-size="16.3" font-weight="700" fill="#000000" stroke="#000000" stroke-width="0.4">10</text>
<path d="M523.50,743.00H533.50" stroke="#000000" stroke-width="2.55" fill="none"/>
<text x="520.50" y="748.90" text-anchor="end" font-size="16.3" font-weight="700" fill="#000000" stroke="#000000" stroke-width="0.4">0</text>
<path d="M558.00,743.00V753.60" stroke="#000000" stroke-width="2.65" fill="none"/>
<text transform="translate(562.70,771.30) rotate(-45)" text-anchor="end" font-size="16.3" font-weight="700" fill="#000000" stroke="#000000" stroke-width="0.3" textLength="59.0" lengthAdjust="spacingAndGlyphs">Control</text>
<path d="M596.60,743.00V753.60" stroke="#000000" stroke-width="2.65" fill="none"/>
<text transform="translate(601.30,771.30) rotate(-45)" text-anchor="end" font-size="16.3" font-weight="700" fill="#000000" stroke="#000000" stroke-width="0.3" textLength="34.8" lengthAdjust="spacingAndGlyphs">HUA</text>
<path d="M634.60,743.00V753.60" stroke="#000000" stroke-width="2.65" fill="none"/>
<text transform="translate(639.30,771.30) rotate(-45)" text-anchor="end" font-size="16.3" font-weight="700" fill="#000000" stroke="#000000" stroke-width="0.3" textLength="36.3" lengthAdjust="spacingAndGlyphs">DAG</text>
<path d="M673.20,743.00V753.60" stroke="#000000" stroke-width="2.65" fill="none"/>
<text transform="translate(677.90,771.30) rotate(-45)" text-anchor="end" font-size="16.3" font-weight="700" fill="#000000" stroke="#000000" stroke-width="0.3" textLength="90.0" lengthAdjust="spacingAndGlyphs">Allopurinol</text>
<g transform="translate(489.10,703.80) rotate(-90)" font-size="15.8" font-weight="700" fill="#000000" stroke="#000000" stroke-width="0.25">
<text x="0" y="0" textLength="99.5" lengthAdjust="spacingAndGlyphs">Serum TNF-α</text>
<text x="103.70" y="-0.3" font-weight="400" font-size="17.5" stroke-width="0.2">(</text>
<text x="112.10" y="0" textLength="41.8" lengthAdjust="spacingAndGlyphs">pg/ml</text>
<text x="156.90" y="-0.3" font-weight="400" font-size="17.5" stroke-width="0.2">)</text>
</g>
<text transform="translate(439.30,498.80) scale(1.0,1.045)" font-size="39" font-weight="700" fill="#000" stroke="#000" stroke-width="0.4">E</text>
<path d="M584.50,505.80V510.00Q584.50,510.80 585.30,510.80H609.30Q610.10,510.80 610.10,510.00V505.80" stroke="#3d3d3d" stroke-width="1.6" fill="none" stroke-linejoin="round"/>
<path d="M585.30,492.10L585.30,500.70M581.58,494.25L589.02,498.55M589.02,494.25L581.58,498.55" stroke="#111" stroke-width="1.95" stroke-linecap="butt" fill="none"/>
<path d="M597.10,492.10L597.10,500.70M593.38,494.25L600.82,498.55M600.82,494.25L593.38,498.55" stroke="#111" stroke-width="1.95" stroke-linecap="butt" fill="none"/>
<path d="M608.90,492.10L608.90,500.70M605.18,494.25L612.62,498.55M612.62,494.25L605.18,498.55" stroke="#111" stroke-width="1.95" stroke-linecap="butt" fill="none"/>
<path d="M623.70,604.50V608.70Q623.70,609.50 624.50,609.50H645.50Q646.30,609.50 646.30,608.70V604.50" stroke="#3d3d3d" stroke-width="1.6" fill="none" stroke-linejoin="round"/>
<text x="635.40" y="597.80" text-anchor="middle" font-size="16.5" font-style="italic" fill="#1a1a1a" stroke="#1a1a1a" stroke-width="0.55" textLength="18.72" lengthAdjust="spacingAndGlyphs">##</text>
<path d="M663.00,623.80V628.00Q663.00,628.80 663.80,628.80H683.70Q684.50,628.80 684.50,628.00V623.80" stroke="#3d3d3d" stroke-width="1.6" fill="none" stroke-linejoin="round"/>
<text x="673.60" y="617.30" text-anchor="middle" font-size="16.5" font-style="italic" fill="#1a1a1a" stroke="#1a1a1a" stroke-width="0.55" textLength="25.44" lengthAdjust="spacingAndGlyphs">###</text>
<path d="M933.50,493.95V744.50" stroke="#000000" stroke-width="2.75" fill="none"/>
<path d="M932.05,743.00H1086.00" stroke="#000000" stroke-width="2.75" fill="none"/>
<path d="M923.50,495.30H933.50" stroke="#000000" stroke-width="2.55" fill="none"/>
<text x="920.50" y="501.20" text-anchor="end" font-size="16.3" font-weight="700" fill="#000000" stroke="#000000" stroke-width="0.4">25</text>
<path d="M923.50,544.80H933.50" stroke="#000000" stroke-width="2.55" fill="none"/>
<text x="920.50" y="550.70" text-anchor="end" font-size="16.3" font-weight="700" fill="#000000" stroke="#000000" stroke-width="0.4">20</text>
<path d="M923.50,594.40H933.50" stroke="#000000" stroke-width="2.55" fill="none"/>
<text x="920.50" y="600.30" text-anchor="end" font-size="16.3" font-weight="700" fill="#000000" stroke="#000000" stroke-width="0.4">15</text>
<path d="M923.50,643.90H933.50" stroke="#000000" stroke-width="2.55" fill="none"/>
<text x="920.50" y="649.80" text-anchor="end" font-size="16.3" font-weight="700" fill="#000000" stroke="#000000" stroke-width="0.4">10</text>
<path d="M923.50,693.50H933.50" stroke="#000000" stroke-width="2.55" fill="none"/>
<text x="920.50" y="699.40" text-anchor="end" font-size="16.3" font-weight="700" fill="#000000" stroke="#000000" stroke-width="0.4">5</text>
<path d="M923.50,743.00H933.50" stroke="#000000" stroke-width="2.55" fill="none"/>
<text x="920.50" y="748.90" text-anchor="end" font-size="16.3" font-weight="700" fill="#000000" stroke="#000000" stroke-width="0.4">0</text>
<path d="M959.30,743.00V753.60" stroke="#000000" stroke-width="2.65" fill="none"/>
<text transform="translate(964.00,771.30) rotate(-45)" text-anchor="end" font-size="16.3" font-weight="700" fill="#000000" stroke="#000000" stroke-width="0.3" textLength="59.0" lengthAdjust="spacingAndGlyphs">Control</text>
<path d="M997.50,743.00V753.60" stroke="#000000" stroke-width="2.65" fill="none"/>
<text transform="translate(1002.20,771.30) rotate(-45)" text-anchor="end" font-size="16.3" font-weight="700" fill="#000000" stroke="#000000" stroke-width="0.3" textLength="34.8" lengthAdjust="spacingAndGlyphs">HUA</text>
<path d="M1035.80,743.00V753.60" stroke="#000000" stroke-width="2.65" fill="none"/>
<text transform="translate(1040.50,771.30) rotate(-45)" text-anchor="end" font-size="16.3" font-weight="700" fill="#000000" stroke="#000000" stroke-width="0.3" textLength="36.3" lengthAdjust="spacingAndGlyphs">DAG</text>
<path d="M1074.20,743.00V753.60" stroke="#000000" stroke-width="2.65" fill="none"/>
<text transform="translate(1078.90,771.30) rotate(-45)" text-anchor="end" font-size="16.3" font-weight="700" fill="#000000" stroke="#000000" stroke-width="0.3" textLength="90.0" lengthAdjust="spacingAndGlyphs">Allopurinol</text>
<g transform="translate(889.40,701.30) rotate(-90)" font-size="15.8" font-weight="700" fill="#000000" stroke="#000000" stroke-width="0.25">
<text x="0" y="0" textLength="94.5" lengthAdjust="spacingAndGlyphs">Serum IL-1β</text>
<text x="98.70" y="-0.3" font-weight="400" font-size="17.5" stroke-width="0.2">(</text>
<text x="107.10" y="0" textLength="41.8" lengthAdjust="spacingAndGlyphs">pg/ml</text>
<text x="151.90" y="-0.3" font-weight="400" font-size="17.5" stroke-width="0.2">)</text>
</g>
<text transform="translate(830.80,498.80) scale(1.0,1.045)" font-size="39" font-weight="700" fill="#000" stroke="#000" stroke-width="0.4">F</text>
<path d="M985.00,532.60V536.80Q985.00,537.60 985.80,537.60H1009.80Q1010.60,537.60 1010.60,536.80V532.60" stroke="#262626" stroke-width="1.8" fill="none" stroke-linejoin="round"/>
<path d="M991.80,517.80L991.80,526.60M987.99,520.00L995.61,524.40M995.61,520.00L987.99,524.40" stroke="#111" stroke-width="1.95" stroke-linecap="butt" fill="none"/>
<path d="M1002.60,517.80L1002.60,526.60M998.79,520.00L1006.41,524.40M1006.41,520.00L998.79,524.40" stroke="#111" stroke-width="1.95" stroke-linecap="butt" fill="none"/>
<path d="M1023.20,650.00V654.20Q1023.20,655.00 1024.00,655.00H1048.50Q1049.30,655.00 1049.30,654.20V650.00" stroke="#262626" stroke-width="1.8" fill="none" stroke-linejoin="round"/>
<text x="1036.50" y="644.60" text-anchor="middle" font-size="16.5" font-style="italic" fill="#1a1a1a" stroke="#1a1a1a" stroke-width="0.5" textLength="18.52" lengthAdjust="spacingAndGlyphs">##</text>
<path d="M1062.00,634.70V638.90Q1062.00,639.70 1062.80,639.70H1088.50Q1089.30,639.70 1089.30,638.90V634.70" stroke="#262626" stroke-width="1.8" fill="none" stroke-linejoin="round"/>
<text x="1076.00" y="628.40" text-anchor="middle" font-size="16.5" font-style="italic" fill="#1a1a1a" stroke="#1a1a1a" stroke-width="0.5" textLength="18.52" lengthAdjust="spacingAndGlyphs">##</text>
</g>
<g opacity="0.999">
<path d="M120.75,42.40V293.25" stroke="#000000" stroke-width="2.75" fill="none"/>
<path d="M119.30,291.75H287.50" stroke="#000000" stroke-width="2.75" fill="none"/>
<path d="M110.75,43.75H120.75" stroke="#000000" stroke-width="2.55" fill="none"/>
<text x="106.35" y="49.65" text-anchor="end" font-size="16.3" font-weight="700" fill="#000000" stroke="#000000" stroke-width="0.4">2.0</text>
<path d="M110.75,105.75H120.75" stroke="#000000" stroke-width="2.55" fill="none"/>
<text x="106.35" y="111.65" text-anchor="end" font-size="16.3" font-weight="700" fill="#000000" stroke="#000000" stroke-width="0.4">1.5</text>
<path d="M110.75,167.75H120.75" stroke="#000000" stroke-width="2.55" fill="none"/>
<text x="106.35" y="173.65" text-anchor="end" font-size="16.3" font-weight="700" fill="#000000" stroke="#000000" stroke-width="0.4">1.0</text>
<path d="M110.75,229.75H120.75" stroke="#000000" stroke-width="2.55" fill="none"/>
<text x="106.35" y="235.65" text-anchor="end" font-size="16.3" font-weight="700" fill="#000000" stroke="#000000" stroke-width="0.4">0.5</text>
<path d="M110.75,291.75H120.75" stroke="#000000" stroke-width="2.55" fill="none"/>
<text x="106.35" y="297.65" text-anchor="end" font-size="16.3" font-weight="700" fill="#000000" stroke="#000000" stroke-width="0.4">0.0</text>
<path d="M145.70,291.75V302.35" stroke="#000000" stroke-width="2.65" fill="none"/>
<text transform="translate(150.40,320.05) rotate(-45)" text-anchor="end" font-size="16.3" font-weight="700" fill="#000000" stroke="#000000" stroke-width="0.3" textLength="59.0" lengthAdjust="spacingAndGlyphs">Control</text>
<path d="M184.30,291.75V302.35" stroke="#000000" stroke-width="2.65" fill="none"/>
<text transform="translate(189.00,320.05) rotate(-45)" text-anchor="end" font-size="16.3" font-weight="700" fill="#000000" stroke="#000000" stroke-width="0.3" textLength="34.8" lengthAdjust="spacingAndGlyphs">HUA</text>
<path d="M222.10,291.75V302.35" stroke="#000000" stroke-width="2.65" fill="none"/>
<text transform="translate(226.80,320.05) rotate(-45)" text-anchor="end" font-size="16.3" font-weight="700" fill="#000000" stroke="#000000" stroke-width="0.3" textLength="36.3" lengthAdjust="spacingAndGlyphs">DAG</text>
<path d="M260.50,291.75V302.35" stroke="#000000" stroke-width="2.65" fill="none"/>
<text transform="translate(265.20,320.05) rotate(-45)" text-anchor="end" font-size="16.3" font-weight="700" fill="#000000" stroke="#000000" stroke-width="0.3" textLength="90.0" lengthAdjust="spacingAndGlyphs">Allopurinol</text>
<text transform="translate(71.20,169.00) rotate(-90)" text-anchor="middle" font-size="16.3" font-weight="700" fill="#000000" stroke="#000000" stroke-width="0.3" textLength="215" lengthAdjust="spacingAndGlyphs">Relative mRNA level of IL-6</text>
<text transform="translate(4.30,37.80) scale(1.04,1.045)" font-size="39" font-weight="700" fill="#000" stroke="#000" stroke-width="0.4">A</text>
<path d="M171.70,96.20V100.40Q171.70,101.20 172.50,101.20H196.50Q197.30,101.20 197.30,100.40V96.20" stroke="#3d3d3d" stroke-width="1.6" fill="none" stroke-linejoin="round"/>
<text x="184.40" y="91.00" text-anchor="middle" font-size="17" fill="#161616" stroke="#161616" stroke-width="0.45" textLength="15.8" lengthAdjust="spacingAndGlyphs">ns</text>
<path d="M209.50,103.80V108.00Q209.50,108.80 210.30,108.80H234.20Q235.00,108.80 235.00,108.00V103.80" stroke="#3d3d3d" stroke-width="1.6" fill="none" stroke-linejoin="round"/>
<text x="222.00" y="98.00" text-anchor="middle" font-size="17" fill="#161616" stroke="#161616" stroke-width="0.45" textLength="15.8" lengthAdjust="spacingAndGlyphs">ns</text>
<path d="M247.20,103.80V108.00Q247.20,108.80 248.00,108.80H272.30Q273.10,108.80 273.10,108.00V103.80" stroke="#3d3d3d" stroke-width="1.6" fill="none" stroke-linejoin="round"/>
<text x="259.80" y="98.00" text-anchor="middle" font-size="17" fill="#161616" stroke="#161616" stroke-width="0.45" textLength="15.8" lengthAdjust="spacingAndGlyphs">ns</text>
<path d="M533.50,42.15V293.00" stroke="#000000" stroke-width="2.75" fill="none"/>
<path d="M532.05,291.50H700.00" stroke="#000000" stroke-width="2.75" fill="none"/>
<path d="M523.50,43.50H533.50" stroke="#000000" stroke-width="2.55" fill="none"/>
<text x="519.20" y="49.40" text-anchor="end" font-size="16.3" font-weight="700" fill="#000000" stroke="#000000" stroke-width="0.4">1.5</text>
<path d="M523.50,126.20H533.50" stroke="#000000" stroke-width="2.55" fill="none"/>
<text x="519.20" y="132.10" text-anchor="end" font-size="16.3" font-weight="700" fill="#000000" stroke="#000000" stroke-width="0.4">1.0</text>
<path d="M523.50,208.80H533.50" stroke="#000000" stroke-width="2.55" fill="none"/>
<text x="519.20" y="214.70" text-anchor="end" font-size="16.3" font-weight="700" fill="#000000" stroke="#000000" stroke-width="0.4">0.5</text>
<path d="M523.50,291.50H533.50" stroke="#000000" stroke-width="2.55" fill="none"/>
<text x="519.20" y="297.40" text-anchor="end" font-size="16.3" font-weight="700" fill="#000000" stroke="#000000" stroke-width="0.4">0.0</text>
<path d="M558.00,291.50V302.10" stroke="#000000" stroke-width="2.65" fill="none"/>
<text transform="translate(562.70,319.80) rotate(-45)" text-anchor="end" font-size="16.3" font-weight="700" fill="#000000" stroke="#000000" stroke-width="0.3" textLength="59.0" lengthAdjust="spacingAndGlyphs">Control</text>
<path d="M596.60,291.50V302.10" stroke="#000000" stroke-width="2.65" fill="none"/>
<text transform="translate(601.30,319.80) rotate(-45)" text-anchor="end" font-size="16.3" font-weight="700" fill="#000000" stroke="#000000" stroke-width="0.3" textLength="34.8" lengthAdjust="spacingAndGlyphs">HUA</text>
<path d="M634.60,291.50V302.10" stroke="#000000" stroke-width="2.65" fill="none"/>
<text transform="translate(639.30,319.80) rotate(-45)" text-anchor="end" font-size="16.3" font-weight="700" fill="#000000" stroke="#000000" stroke-width="0.3" textLength="36.3" lengthAdjust="spacingAndGlyphs">DAG</text>
<path d="M673.20,291.50V302.10" stroke="#000000" stroke-width="2.65" fill="none"/>
<text transform="translate(677.90,319.80) rotate(-45)" text-anchor="end" font-size="16.3" font-weight="700" fill="#000000" stroke="#000000" stroke-width="0.3" textLength="90.0" lengthAdjust="spacingAndGlyphs">Allopurinol</text>
<text transform="translate(482.70,163.60) rotate(-90)" text-anchor="middle" font-size="16.3" font-weight="700" fill="#000000" stroke="#000000" stroke-width="0.3" textLength="225" lengthAdjust="spacingAndGlyphs">Relative mRNA level of TNF-α</text>
<text transform="translate(418.90,37.80) scale(1.0,1.045)" font-size="39" font-weight="700" fill="#000" stroke="#000" stroke-width="0.4">B</text>
<path d="M583.30,57.60V61.80Q583.30,62.60 584.10,62.60H609.70Q610.50,62.60 610.50,61.80V57.60" stroke="#262626" stroke-width="1.85" fill="none" stroke-linejoin="round"/>
<text x="597.20" y="53.00" text-anchor="middle" font-size="17" fill="#161616" stroke="#161616" stroke-width="0.45" textLength="15.8" lengthAdjust="spacingAndGlyphs">ns</text>
<path d="M622.00,154.00V158.20Q622.00,159.00 622.80,159.00H648.00Q648.80,159.00 648.80,158.20V154.00" stroke="#262626" stroke-width="1.85" fill="none" stroke-linejoin="round"/>
<text x="635.50" y="149.40" text-anchor="middle" font-size="17" fill="#161616" stroke="#161616" stroke-width="0.45" textLength="15.8" lengthAdjust="spacingAndGlyphs">ns</text>
<path d="M659.70,139.50V143.70Q659.70,144.50 660.50,144.50H685.80Q686.60,144.50 686.60,143.70V139.50" stroke="#262626" stroke-width="1.85" fill="none" stroke-linejoin="round"/>
<text x="673.30" y="134.00" text-anchor="middle" font-size="17" fill="#161616" stroke="#161616" stroke-width="0.45" textLength="15.8" lengthAdjust="spacingAndGlyphs">ns</text>
<path d="M933.50,41.95V293.00" stroke="#000000" stroke-width="2.75" fill="none"/>
<path d="M932.05,291.50H1086.00" stroke="#000000" stroke-width="2.75" fill="none"/>
<path d="M923.50,43.30H933.50" stroke="#000000" stroke-width="2.55" fill="none"/>
<text x="919.70" y="49.20" text-anchor="end" font-size="16.3" font-weight="700" fill="#000000" stroke="#000000" stroke-width="0.4">4</text>
<path d="M923.50,105.30H933.50" stroke="#000000" stroke-width="2.55" fill="none"/>
<text x="919.70" y="111.20" text-anchor="end" font-size="16.3" font-weight="700" fill="#000000" stroke="#000000" stroke-width="0.4">3</text>
<path d="M923.50,167.30H933.50" stroke="#000000" stroke-width="2.55" fill="none"/>
<text x="919.70" y="173.20" text-anchor="end" font-size="16.3" font-weight="700" fill="#000000" stroke="#000000" stroke-width="0.4">2</text>
<path d="M923.50,229.40H933.50" stroke="#000000" stroke-width="2.55" fill="none"/>
<text x="919.70" y="235.30" text-anchor="end" font-size="16.3" font-weight="700" fill="#000000" stroke="#000000" stroke-width="0.4">1</text>
<path d="M923.50,291.50H933.50" stroke="#000000" stroke-width="2.55" fill="none"/>
<text x="919.70" y="297.40" text-anchor="end" font-size="16.3" font-weight="700" fill="#000000" stroke="#000000" stroke-width="0.4">0</text>
<path d="M959.30,291.50V302.10" stroke="#000000" stroke-width="2.65" fill="none"/>
<text transform="translate(964.00,319.80) rotate(-45)" text-anchor="end" font-size="16.3" font-weight="700" fill="#000000" stroke="#000000" stroke-width="0.3" textLength="59.0" lengthAdjust="spacingAndGlyphs">Control</text>
<path d="M997.50,291.50V302.10" stroke="#000000" stroke-width="2.65" fill="none"/>
<text transform="translate(1002.20,319.80) rotate(-45)" text-anchor="end" font-size="16.3" font-weight="700" fill="#000000" stroke="#000000" stroke-width="0.3" textLength="34.8" lengthAdjust="spacingAndGlyphs">HUA</text>
<path d="M1035.60,291.50V302.10" stroke="#000000" stroke-width="2.65" fill="none"/>
<text transform="translate(1040.30,319.80) rotate(-45)" text-anchor="end" font-size="16.3" font-weight="700" fill="#000000" stroke="#000000" stroke-width="0.3" textLength="36.3" lengthAdjust="spacingAndGlyphs">DAG</text>
<path d="M1073.90,291.50V302.10" stroke="#000000" stroke-width="2.65" fill="none"/>
<text transform="translate(1078.60,319.80) rotate(-45)" text-anchor="end" font-size="16.3" font-weight="700" fill="#000000" stroke="#000000" stroke-width="0.3" textLength="90.0" lengthAdjust="spacingAndGlyphs">Allopurinol</text>
<text transform="translate(883.80,166.00) rotate(-90)" text-anchor="middle" font-size="16.3" font-weight="700" fill="#000000" stroke="#000000" stroke-width="0.3" textLength="224" lengthAdjust="spacingAndGlyphs">Relative mRNA level of IL-1β</text>
<text transform="translate(824.90,37.80) scale(1.0,1.045)" font-size="39" font-weight="700" fill="#000" stroke="#000" stroke-width="0.4">C</text>
<path d="M983.80,91.30V95.50Q983.80,96.30 984.60,96.30H1011.10Q1011.90,96.30 1011.90,95.50V91.30" stroke="#1e1e1e" stroke-width="1.9" fill="none" stroke-linejoin="round"/>
<path d="M989.50,72.60L989.50,84.20M984.48,75.50L994.52,81.30M994.52,75.50L984.48,81.30" stroke="#111" stroke-width="2.4" stroke-linecap="butt" fill="none"/>
<path d="M1004.70,72.60L1004.70,84.20M999.68,75.50L1009.72,81.30M1009.72,75.50L999.68,81.30" stroke="#111" stroke-width="2.4" stroke-linecap="butt" fill="none"/>
<path d="M1022.20,235.60V239.80Q1022.20,240.60 1023.00,240.60H1049.20Q1050.00,240.60 1050.00,239.80V235.60" stroke="#1e1e1e" stroke-width="1.9" fill="none" stroke-linejoin="round"/>
<text x="1036.10" y="228.60" text-anchor="middle" font-size="22.5" font-style="italic" fill="#1a1a1a" stroke="#1a1a1a" stroke-width="0.45" textLength="21.45" lengthAdjust="spacingAndGlyphs">##</text>
<path d="M1062.00,109.70V113.90Q1062.00,114.70 1062.80,114.70H1088.50Q1089.30,114.70 1089.30,113.90V109.70" stroke="#1e1e1e" stroke-width="1.9" fill="none" stroke-linejoin="round"/>
<path d="M1074.60,90.70L1074.60,102.30M1069.58,93.60L1079.62,99.40M1079.62,93.60L1069.58,99.40" stroke="#111" stroke-width="2.4" stroke-linecap="butt" fill="none"/>
<path d="M120.75,493.65V744.50" stroke="#000000" stroke-width="2.75" fill="none"/>
<path d="M119.30,743.00H287.50" stroke="#000000" stroke-width="2.75" fill="none"/>
<path d="M110.75,495.00H120.75" stroke="#000000" stroke-width="2.55" fill="none"/>
<text x="106.95" y="500.90" text-anchor="end" font-size="16.3" font-weight="700" fill="#000000" stroke="#000000" stroke-width="0.4">80</text>
<path d="M110.75,557.00H120.75" stroke="#000000" stroke-width="2.55" fill="none"/>
<text x="106.95" y="562.90" text-anchor="end" font-size="16.3" font-weight="700" fill="#000000" stroke="#000000" stroke-width="0.4">60</text>
<path d="M110.75,619.00H120.75" stroke="#000000" stroke-width="2.55" fill="none"/>
<text x="106.95" y="624.90" text-anchor="end" font-size="16.3" font-weight="700" fill="#000000" stroke="#000000" stroke-width="0.4">40</text>
<path d="M110.75,681.00H120.75" stroke="#000000" stroke-width="2.55" fill="none"/>
<text x="106.95" y="686.90" text-anchor="end" font-size="16.3" font-weight="700" fill="#000000" stroke="#000000" stroke-width="0.4">20</text>
<path d="M110.75,743.00H120.75" stroke="#000000" stroke-width="2.55" fill="none"/>
<text x="106.95" y="748.90" text-anchor="end" font-size="16.3" font-weight="700" fill="#000000" stroke="#000000" stroke-width="0.4">0</text>
<path d="M145.70,743.00V753.60" stroke="#000000" stroke-width="2.65" fill="none"/>
<text transform="translate(150.40,771.30) rotate(-45)" text-anchor="end" font-size="16.3" font-weight="700" fill="#000000" stroke="#000000" stroke-width="0.3" textLength="59.0" lengthAdjust="spacingAndGlyphs">Control</text>
<path d="M184.30,743.00V753.60" stroke="#000000" stroke-width="2.65" fill="none"/>
<text transform="translate(189.00,771.30) rotate(-45)" text-anchor="end" font-size="16.3" font-weight="700" fill="#000000" stroke="#000000" stroke-width="0.3" textLength="34.8" lengthAdjust="spacingAndGlyphs">HUA</text>
<path d="M222.10,743.00V753.60" stroke="#000000" stroke-width="2.65" fill="none"/>
<text transform="translate(226.80,771.30) rotate(-45)" text-anchor="end" font-size="16.3" font-weight="700" fill="#000000" stroke="#000000" stroke-width="0.3" textLength="36.3" lengthAdjust="spacingAndGlyphs">DAG</text>
<path d="M260.50,743.00V753.60" stroke="#000000" stroke-width="2.65" fill="none"/>
<text transform="translate(265.20,771.30) rotate(-45)" text-anchor="end" font-size="16.3" font-weight="700" fill="#000000" stroke="#000000" stroke-width="0.3" textLength="90.0" lengthAdjust="spacingAndGlyphs">Allopurinol</text>
<g transform="translate(76.10,693.80) rotate(-90)" font-size="15.8" font-weight="700" fill="#000000" stroke="#000000" stroke-width="0.25">
<text x="0" y="0" textLength="80" lengthAdjust="spacingAndGlyphs">Serum IL-6</text>
<text x="84.20" y="-0.3" font-weight="400" font-size="17.5" stroke-width="0.2">(</text>
<text x="92.60" y="0" textLength="41.8" lengthAdjust="spacingAndGlyphs">pg/ml</text>
<text x="137.40" y="-0.3" font-weight="400" font-size="17.5" stroke-width="0.2">)</text>
</g>
<text transform="translate(2.50,489.80) scale(1.0,1.045)" font-size="39" font-weight="700" fill="#000" stroke="#000" stroke-width="0.4">D</text>
<path d="M170.70,548.30V552.50Q170.70,553.30 171.50,553.30H198.10Q198.90,553.30 198.90,552.50V548.30" stroke="#3d3d3d" stroke-width="1.6" fill="none" stroke-linejoin="round"/>
<path d="M172.50,532.90L172.50,541.90M168.60,535.15L176.40,539.65M176.40,535.15L168.60,539.65" stroke="#111" stroke-width="1.95" stroke-linecap="butt" fill="none"/>
<path d="M184.30,532.90L184.30,541.90M180.40,535.15L188.20,539.65M188.20,535.15L180.40,539.65" stroke="#111" stroke-width="1.95" stroke-linecap="butt" fill="none"/>
<path d="M196.10,532.90L196.10,541.90M192.20,535.15L200.00,539.65M200.00,535.15L192.20,539.65" stroke="#111" stroke-width="1.95" stroke-linecap="butt" fill="none"/>
<path d="M210.30,639.80V644.00Q210.30,644.80 211.10,644.80H234.80Q235.60,644.80 235.60,644.00V639.80" stroke="#3d3d3d" stroke-width="1.6" fill="none" stroke-linejoin="round"/>
<text x="222.80" y="634.40" text-anchor="middle" font-size="16.5" font-style="italic" fill="#1a1a1a" stroke="#1a1a1a" stroke-width="0.7" textLength="9.00" lengthAdjust="spacingAndGlyphs">#</text>
<path d="M249.50,699.50V703.70Q249.50,704.50 250.30,704.50H272.30Q273.10,704.50 273.10,703.70V699.50" stroke="#3d3d3d" stroke-width="1.6" fill="none" stroke-linejoin="round"/>
<text x="261.00" y="692.20" text-anchor="middle" font-size="16.5" font-style="italic" fill="#1a1a1a" stroke="#1a1a1a" stroke-width="0.7" textLength="26.50" lengthAdjust="spacingAndGlyphs">###</text>
<path d="M533.50,493.95V744.50" stroke="#000000" stroke-width="2.75" fill="none"/>
<path d="M532.05,743.00H700.00" stroke="#000000" stroke-width="2.75" fill="none"/>
<path d="M523.50,495.30H533.50" stroke="#000000" stroke-width="2.55" fill="none"/>
<text x="520.50" y="501.20" text-anchor="end" font-size="16.3" font-weight="700" fill="#000000" stroke="#000000" stroke-width="0.4">50</text>
<path d="M523.50,544.80H533.50" stroke="#000000" stroke-width="2.55" fill="none"/>
<text x="520.50" y="550.70" text-anchor="end" font-size="16.3" font-weight="700" fill="#000000" stroke="#000000" stroke-width="0.4">40</text>
<path d="M523.50,594.40H533.50" stroke="#000000" stroke-width="2.55" fill="none"/>
<text x="520.50" y="600.30" text-anchor="end" font-size="16.3" font-weight="700" fill="#000000" stroke="#000000" stroke-width="0.4">30</text>
<path d="M523.50,643.90H533.50" stroke="#000000" stroke-width="2.55" fill="none"/>
<text x="520.50" y="649.80" text-anchor="end" font-size="16.3" font-weight="700" fill="#000000" stroke="#000000" stroke-width="0.4">20</text>
<path d="M523.50,693.50H533.50" stroke="#000000" stroke-width="2.55" fill="none"/>
<text x="520.50" y="699.40" text-anchor="end" font-size="16.3" font-weight="700" fill="#000000" stroke="#000000" stroke-width="0.4">10</text>
<path d="M523.50,743.00H533.50" stroke="#000000" stroke-width="2.55" fill="none"/>
<text x="520.50" y="748.90" text-anchor="end" font-size="16.3" font-weight="700" fill="#000000" stroke="#000000" stroke-width="0.4">0</text>
<path d="M558.00,743.00V753.60" stroke="#000000" stroke-width="2.65" fill="none"/>
<text transform="translate(562.70,771.30) rotate(-45)" text-anchor="end" font-size="16.3" font-weight="700" fill="#000000" stroke="#000000" stroke-width="0.3" textLength="59.0" lengthAdjust="spacingAndGlyphs">Control</text>
<path d="M596.60,743.00V753.60" stroke="#000000" stroke-width="2.65" fill="none"/>
<text transform="translate(601.30,771.30) rotate(-45)" text-anchor="end" font-size="16.3" font-weight="700" fill="#000000" stroke="#000000" stroke-width="0.3" textLength="34.8" lengthAdjust="spacingAndGlyphs">HUA</text>
<path d="M634.60,743.00V753.60" stroke="#000000" stroke-width="2.65" fill="none"/>
<text transform="translate(639.30,771.30) rotate(-45)" text-anchor="end" font-size="16.3" font-weight="700" fill="#000000" stroke="#000000" stroke-width="0.3" textLength="36.3" lengthAdjust="spacingAndGlyphs">DAG</text>
<path d="M673.20,743.00V753.60" stroke="#000000" stroke-width="2.65" fill="none"/>
<text transform="translate(677.90,771.30) rotate(-45)" text-anchor="end" font-size="16.3" font-weight="700" fill="#000000" stroke="#000000" stroke-width="0.3" textLength="90.0" lengthAdjust="spacingAndGlyphs">Allopurinol</text>
<g transform="translate(489.10,703.80) rotate(-90)" font-size="15.8" font-weight="700" fill="#000000" stroke="#000000" stroke-width="0.25">
<text x="0" y="0" textLength="99.5" lengthAdjust="spacingAndGlyphs">Serum TNF-α</text>
<text x="103.70" y="-0.3" font-weight="400" font-size="17.5" stroke-width="0.2">(</text>
<text x="112.10" y="0" textLength="41.8" lengthAdjust="spacingAndGlyphs">pg/ml</text>
<text x="156.90" y="-0.3" font-weight="400" font-size="17.5" stroke-width="0.2">)</text>
</g>
<text transform="translate(439.30,498.80) scale(1.0,1.045)" font-size="39" font-weight="700" fill="#000" stroke="#000" stroke-width="0.4">E</text>
<path d="M584.50,505.80V510.00Q584.50,510.80 585.30,510.80H609.30Q610.10,510.80 610.10,510.00V505.80" stroke="#3d3d3d" stroke-width="1.6" fill="none" stroke-linejoin="round"/>
<path d="M585.30,492.10L585.30,500.70M581.58,494.25L589.02,498.55M589.02,494.25L581.58,498.55" stroke="#111" stroke-width="1.95" stroke-linecap="butt" fill="none"/>
<path d="M597.10,492.10L597.10,500.70M593.38,494.25L600.82,498.55M600.82,494.25L593.38,498.55" stroke="#111" stroke-width="1.95" stroke-linecap="butt" fill="none"/>
<path d="M608.90,492.10L608.90,500.70M605.18,494.25L612.62,498.55M612.62,494.25L605.18,498.55" stroke="#111" stroke-width="1.95" stroke-linecap="butt" fill="none"/>
<path d="M623.70,604.50V608.70Q623.70,609.50 624.50,609.50H645.50Q646.30,609.50 646.30,608.70V604.50" stroke="#3d3d3d" stroke-width="1.6" fill="none" stroke-linejoin="round"/>
<text x="635.40" y="597.80" text-anchor="middle" font-size="16.5" font-style="italic" fill="#1a1a1a" stroke="#1a1a1a" stroke-width="0.55" textLength="18.72" lengthAdjust="spacingAndGlyphs">##</text>
<path d="M663.00,623.80V628.00Q663.00,628.80 663.80,628.80H683.70Q684.50,628.80 684.50,628.00V623.80" stroke="#3d3d3d" stroke-width="1.6" fill="none" stroke-linejoin="round"/>
<text x="673.60" y="617.30" text-anchor="middle" font-size="16.5" font-style="italic" fill="#1a1a1a" stroke="#1a1a1a" stroke-width="0.55" textLength="25.44" lengthAdjust="spacingAndGlyphs">###</text>
<path d="M933.50,493.95V744.50" stroke="#000000" stroke-width="2.75" fill="none"/>
<path d="M932.05,743.00H1086.00" stroke="#000000" stroke-width="2.75" fill="none"/>
<path d="M923.50,495.30H933.50" stroke="#000000" stroke-width="2.55" fill="none"/>
<text x="920.50" y="501.20" text-anchor="end" font-size="16.3" font-weight="700" fill="#000000" stroke="#000000" stroke-width="0.4">25</text>
<path d="M923.50,544.80H933.50" stroke="#000000" stroke-width="2.55" fill="none"/>
<text x="920.50" y="550.70" text-anchor="end" font-size="16.3" font-weight="700" fill="#000000" stroke="#000000" stroke-width="0.4">20</text>
<path d="M923.50,594.40H933.50" stroke="#000000" stroke-width="2.55" fill="none"/>
<text x="920.50" y="600.30" text-anchor="end" font-size="16.3" font-weight="700" fill="#000000" stroke="#000000" stroke-width="0.4">15</text>
<path d="M923.50,643.90H933.50" stroke="#000000" stroke-width="2.55" fill="none"/>
<text x="920.50" y="649.80" text-anchor="end" font-size="16.3" font-weight="700" fill="#000000" stroke="#000000" stroke-width="0.4">10</text>
<path d="M923.50,693.50H933.50" stroke="#000000" stroke-width="2.55" fill="none"/>
<text x="920.50" y="699.40" text-anchor="end" font-size="16.3" font-weight="700" fill="#000000" stroke="#000000" stroke-width="0.4">5</text>
<path d="M923.50,743.00H933.50" stroke="#000000" stroke-width="2.55" fill="none"/>
<text x="920.50" y="748.90" text-anchor="end" font-size="16.3" font-weight="700" fill="#000000" stroke="#000000" stroke-width="0.4">0</text>
<path d="M959.30,743.00V753.60" stroke="#000000" stroke-width="2.65" fill="none"/>
<text transform="translate(964.00,771.30) rotate(-45)" text-anchor="end" font-size="16.3" font-weight="700" fill="#000000" stroke="#000000" stroke-width="0.3" textLength="59.0" lengthAdjust="spacingAndGlyphs">Control</text>
<path d="M997.50,743.00V753.60" stroke="#000000" stroke-width="2.65" fill="none"/>
<text transform="translate(1002.20,771.30) rotate(-45)" text-anchor="end" font-size="16.3" font-weight="700" fill="#000000" stroke="#000000" stroke-width="0.3" textLength="34.8" lengthAdjust="spacingAndGlyphs">HUA</text>
<path d="M1035.80,743.00V753.60" stroke="#000000" stroke-width="2.65" fill="none"/>
<text transform="translate(1040.50,771.30) rotate(-45)" text-anchor="end" font-size="16.3" font-weight="700" fill="#000000" stroke="#000000" stroke-width="0.3" textLength="36.3" lengthAdjust="spacingAndGlyphs">DAG</text>
<path d="M1074.20,743.00V753.60" stroke="#000000" stroke-width="2.65" fill="none"/>
<text transform="translate(1078.90,771.30) rotate(-45)" text-anchor="end" font-size="16.3" font-weight="700" fill="#000000" stroke="#000000" stroke-width="0.3" textLength="90.0" lengthAdjust="spacingAndGlyphs">Allopurinol</text>
<g transform="translate(889.40,701.30) rotate(-90)" font-size="15.8" font-weight="700" fill="#000000" stroke="#000000" stroke-width="0.25">
<text x="0" y="0" textLength="94.5" lengthAdjust="spacingAndGlyphs">Serum IL-1β</text>
<text x="98.70" y="-0.3" font-weight="400" font-size="17.5" stroke-width="0.2">(</text>
<text x="107.10" y="0" textLength="41.8" lengthAdjust="spacingAndGlyphs">pg/ml</text>
<text x="151.90" y="-0.3" font-weight="400" font-size="17.5" stroke-width="0.2">)</text>
</g>
<text transform="translate(830.80,498.80) scale(1.0,1.045)" font-size="39" font-weight="700" fill="#000" stroke="#000" stroke-width="0.4">F</text>
<path d="M985.00,532.60V536.80Q985.00,537.60 985.80,537.60H1009.80Q1010.60,537.60 1010.60,536.80V532.60" stroke="#262626" stroke-width="1.8" fill="none" stroke-linejoin="round"/>
<path d="M991.80,517.80L991.80,526.60M987.99,520.00L995.61,524.40M995.61,520.00L987.99,524.40" stroke="#111" stroke-width="1.95" stroke-linecap="butt" fill="none"/>
<path d="M1002.60,517.80L1002.60,526.60M998.79,520.00L1006.41,524.40M1006.41,520.00L998.79,524.40" stroke="#111" stroke-width="1.95" stroke-linecap="butt" fill="none"/>
<path d="M1023.20,650.00V654.20Q1023.20,655.00 1024.00,655.00H1048.50Q1049.30,655.00 1049.30,654.20V650.00" stroke="#262626" stroke-width="1.8" fill="none" stroke-linejoin="round"/>
<text x="1036.50" y="644.60" text-anchor="middle" font-size="16.5" font-style="italic" fill="#1a1a1a" stroke="#1a1a1a" stroke-width="0.5" textLength="18.52" lengthAdjust="spacingAndGlyphs">##</text>
<path d="M1062.00,634.70V638.90Q1062.00,639.70 1062.80,639.70H1088.50Q1089.30,639.70 1089.30,638.90V634.70" stroke="#262626" stroke-width="1.8" fill="none" stroke-linejoin="round"/>
<text x="1076.00" y="628.40" text-anchor="middle" font-size="16.5" font-style="italic" fill="#1a1a1a" stroke="#1a1a1a" stroke-width="0.5" textLength="18.52" lengthAdjust="spacingAndGlyphs">##</text>
</g>
</svg>
</body>
</html>
